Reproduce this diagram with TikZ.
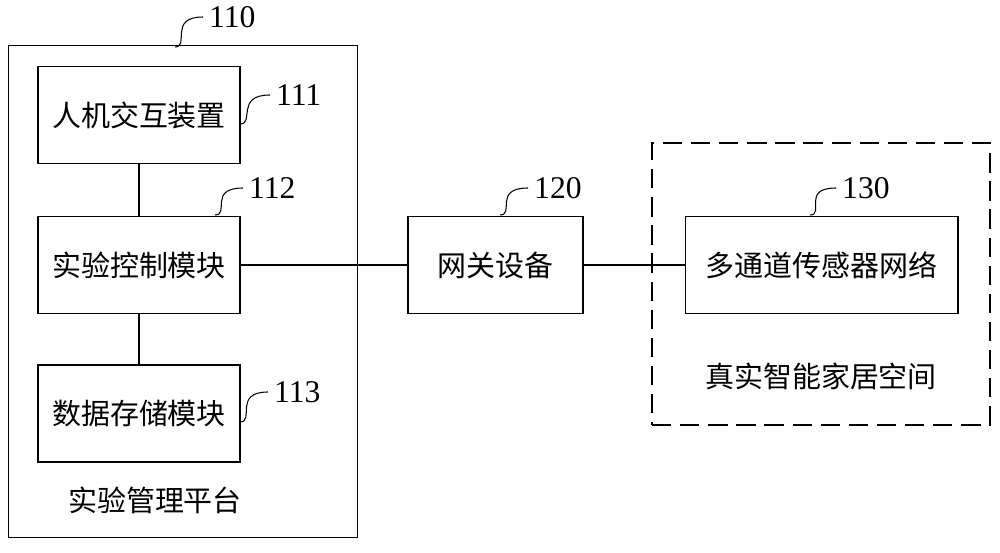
\documentclass[tikz,border=0pt]{standalone}
\usepackage{fontspec}
\setmainfont{Liberation Serif}
\newfontfamily\cjk{Noto Sans CJK SC}
\usetikzlibrary{positioning}
\tikzset{
  x=0.02cm, y=-0.02cm,
  box/.style={draw, semithick, minimum width=4.04cm, minimum height=1.94cm, font=\cjk\fontsize{16.5}{18}\selectfont},
  lab/.style={font=\cjk\fontsize{16.5}{18}\selectfont},
  num/.style={font=\fontsize{18}{20}\selectfont},
  lead/.style={semithick},
}
\begin{document}
\begin{tikzpicture}
  \useasboundingbox (0,0) rectangle (1000,553);
  \node[draw, semithick, minimum width=7cm, minimum height=9.86cm] (p110) at (183,291.5) {};
  \node[box] (m111) at (139,115) {人机交互装置};
  \node[box] (m112) at (139,265) {实验控制模块};
  \node[box] (m113) at (139,413.5) {数据存储模块};
  \node[lab] (t110) at (155,500) {实验管理平台};
  \node[box, minimum width=3.5cm] (m120) at (495.5,265) {网关设备};
  \node[draw, line width=1.6pt, dash pattern=on 11pt off 5pt, minimum width=6.76cm, minimum height=5.64cm] (s130) at (821,284) {};
  \node[box, minimum width=5.46cm] (m130) at (821.5,265) {多通道传感器网络};
  \node[lab] (t130) at (821,376) {真实智能家居空间};
  % connections
  \draw[semithick] (m111) -- (m112);
  \draw[semithick] (m112) -- (m113);
  \draw[semithick] (m112) -- (m120);
  \draw[semithick] (m120) -- (m130);
  % reference numerals
  \node[num, anchor=west] (n110) at (203,17) {110};
  \node[num, anchor=west] (n111) at (270,95) {111};
  \node[num, anchor=west] (n112) at (243,188) {112};
  \node[num, anchor=west] (n113) at (268,392) {113};
  \node[num, anchor=west] (n120) at (528,188) {120};
  \node[num, anchor=west] (n130) at (836,188) {130};
  \coordinate (c110) at (175,47);
  \coordinate (c111) at (240,124);
  \coordinate (c112) at (215,215);
  \coordinate (c113) at (240,422);
  \coordinate (c120) at (500,215);
  \coordinate (c130) at (810,215);
  \foreach \c/\n in {c110/n110, c111/n111, c112/n112, c113/n113, c120/n120, c130/n130}
    \draw[lead] (\c) .. controls ([xshift=0.3cm]\c) and ([xshift=-0.7cm]\n.west) .. (\n.west);
\end{tikzpicture}
\end{document}
